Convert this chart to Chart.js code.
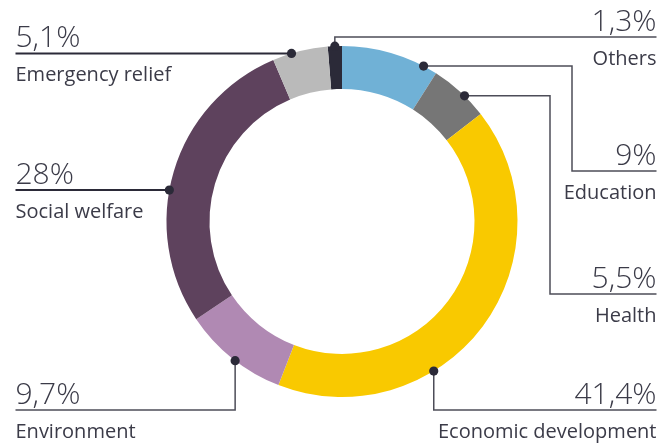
<!DOCTYPE html>
<html>
<head>
<meta charset="utf-8">
<script src="https://cdn.jsdelivr.net/npm/chart.js@4"></script>
<style>
  body { margin: 0; background: #fff; }
  canvas { display: block; }
</style>
</head>
<body>
<canvas id="donut" width="672" height="443"></canvas>
<script>
const categories = ['Others', 'Education', 'Health', 'Economic development', 'Environment', 'Social welfare', 'Emergency relief'];
const shares = [1.3, 9, 5.5, 41.4, 9.7, 28, 5.1];
const colors = ['#2b2a38', '#70b1d6', '#767676', '#f9c900', '#b089b3', '#5e425d', '#bababa'];

// where each callout sits (layout only)
const callouts = [
  { frac: 0.5,   route: 'v', lineY: 37,  side: 'right', dark: false },
  { frac: 0.855, route: 'h', elbowX: 572, lineY: 171, side: 'right', dark: false },
  { frac: 0.6,   route: 'h', elbowX: 550, lineY: 294, side: 'right', dark: false },
  { frac: 0.646, route: 'v', lineY: 410, side: 'right', dark: false },
  { frac: 0.466, route: 'v', lineY: 410, side: 'left',  dark: false },
  { frac: 0.438, route: 'h', side: 'left', dark: true },
  { frac: 0.344, route: 'h', side: 'left', dark: true }
];

const LEFT_X = 15.5;
const RIGHT_X = 656.5;
const TEXT = '#3b3b48';

function fmt(v) {
  return String(v).replace('.', ',') + '%';
}

const calloutPlugin = {
  id: 'callouts',
  afterDraw(chart) {
    const ctx = chart.ctx;
    const arcs = chart.getDatasetMeta(0).data;
    ctx.save();
    arcs.forEach((arc, i) => {
      const c = callouts[i];
      const p = arc.getProps(['x', 'y', 'startAngle', 'endAngle', 'outerRadius'], true);
      const a = p.startAngle + c.frac * (p.endAngle - p.startAngle);
      const dx = p.x + Math.cos(a) * p.outerRadius;
      const dy = p.y + Math.sin(a) * p.outerRadius;
      const endX = c.side === 'left' ? LEFT_X : RIGHT_X;
      let lineY = c.lineY !== undefined ? c.lineY : dy;

      ctx.beginPath();
      ctx.moveTo(dx, dy);
      if (c.route === 'h') {
        if (c.elbowX !== undefined) {
          ctx.lineTo(c.elbowX, dy);
          ctx.lineTo(c.elbowX, lineY);
        }
      } else {
        ctx.lineTo(dx, lineY);
      }
      ctx.lineTo(endX, lineY);
      ctx.strokeStyle = c.dark ? '#2b2a38' : '#4d4d58';
      ctx.lineWidth = c.dark ? 2 : 1.5;
      ctx.stroke();

      ctx.beginPath();
      ctx.arc(dx, dy, 4.6, 0, Math.PI * 2);
      ctx.fillStyle = '#2b2a38';
      ctx.fill();

      ctx.fillStyle = TEXT;
      ctx.textAlign = c.side === 'left' ? 'left' : 'right';
      ctx.textBaseline = 'alphabetic';
      ctx.font = '300 30px "Open Sans"';
      ctx.fillText(fmt(shares[i]), endX, lineY - 6);
      ctx.font = '400 20px "Open Sans"';
      ctx.fillText(categories[i], endX, lineY + 28);
    });
    ctx.restore();
  }
};

new Chart(document.getElementById('donut'), {
  type: 'doughnut',
  data: {
    labels: categories,
    datasets: [{
      data: shares,
      backgroundColor: colors,
      borderWidth: 0
    }]
  },
  options: {
    responsive: false,
    animation: false,
    cutout: '75.5%',
    rotation: -shares[0] / 100 * 360,
    layout: { padding: { top: 46, bottom: 46, left: 100, right: 88 } },
    plugins: {
      legend: { display: false },
      tooltip: { enabled: false }
    }
  },
  plugins: [calloutPlugin]
});
</script>
</body>
</html>
